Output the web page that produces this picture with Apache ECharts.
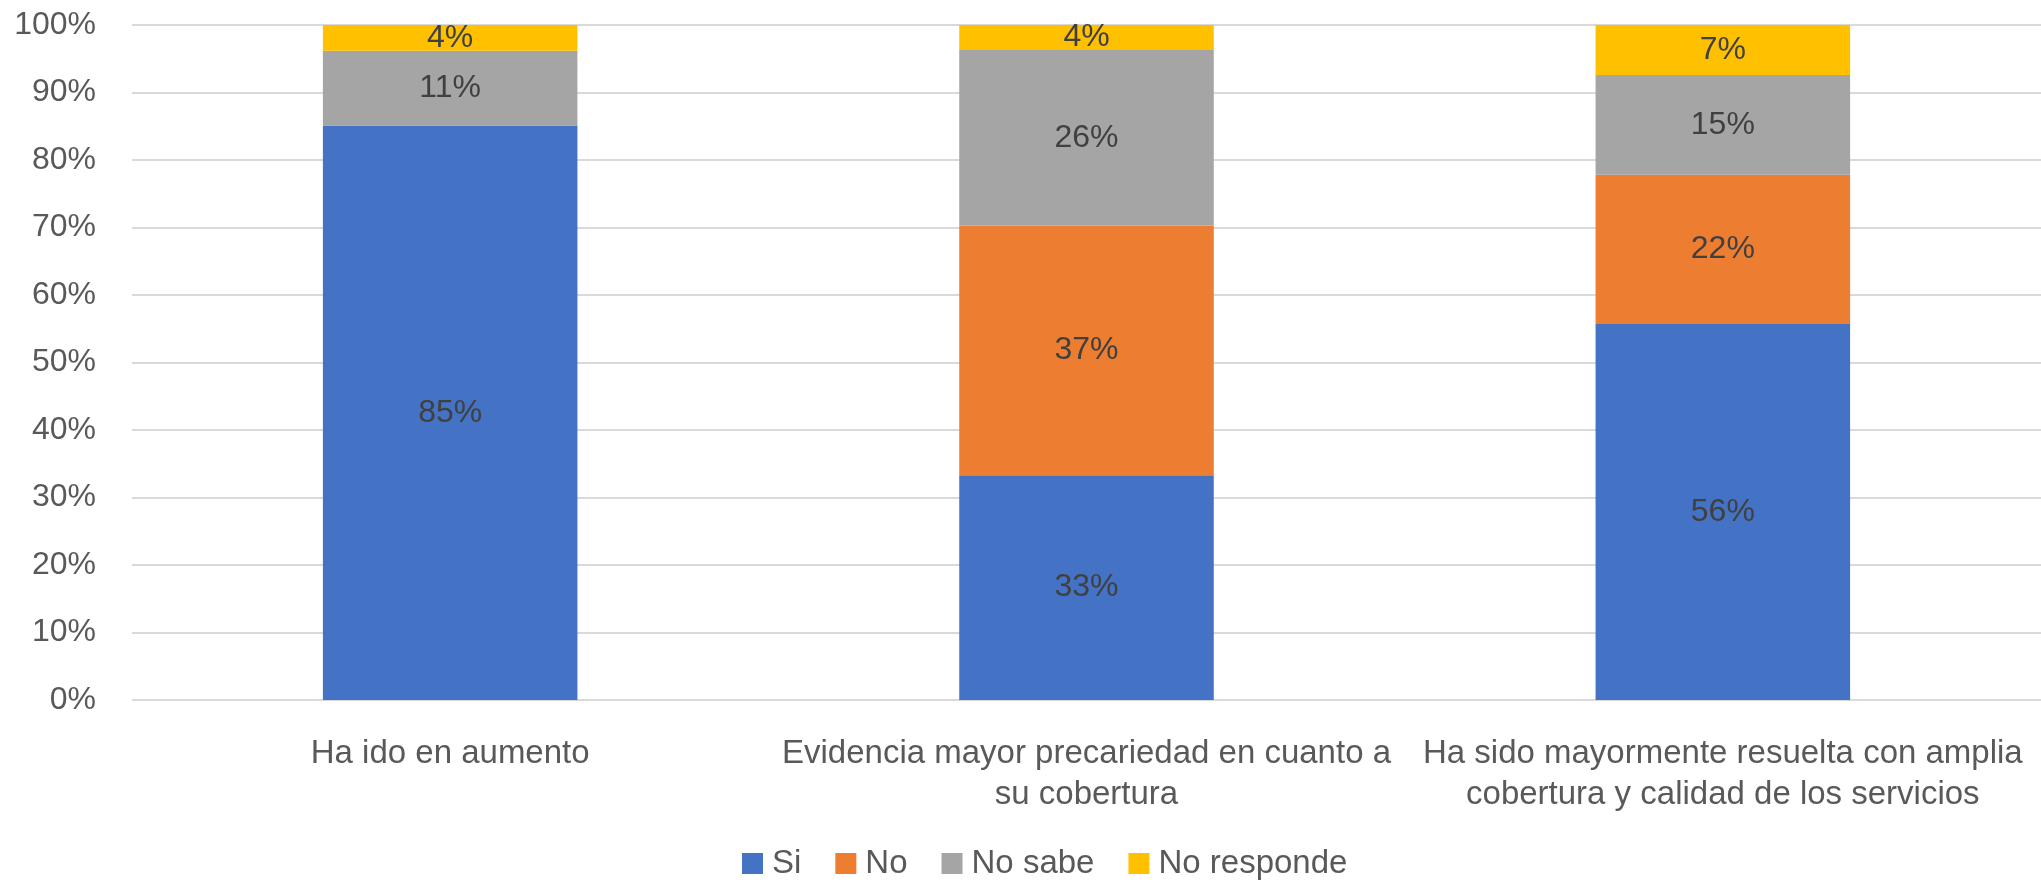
<!DOCTYPE html>
<html>
<head>
<meta charset="utf-8">
<script src="https://cdn.jsdelivr.net/npm/echarts@6/dist/echarts.min.js"></script>
<style>
  html, body { margin: 0; padding: 0; background: #fff; }
  #main { width: 2041px; height: 882px; }
</style>
</head>
<body>
<div id="main"></div>
<script>
// categories and stacked shares (percent)
var categories = [
  'Ha ido en aumento',
  'Evidencia mayor precariedad en cuanto a\nsu cobertura',
  'Ha sido mayormente resuelta con amplia\ncobertura y calidad de los servicios'
];
var si = [85.1, 33.3, 55.7];
var no = [0, 37.0, 22.1];
var noSabe = [11.1, 26.0, 14.8];
var noResponde = [3.8, 3.7, 7.4];
var yTicks = [0, 10, 20, 30, 40, 50, 60, 70, 80, 90, 100];

var font = 'Liberation Sans';

function barSeries(name, data, color) {
  return {
    name: name,
    type: 'bar',
    stack: 'total',
    barWidth: '40%',
    data: data,
    itemStyle: { color: color },
    label: {
      show: true,
      position: 'inside',
      color: '#404040',
      fontFamily: font,
      fontSize: 32,
      formatter: function (p) {
        return p.value > 0 ? Math.round(p.value) + '%' : '';
      }
    },
    emphasis: { disabled: true }
  };
}

var myChart = echarts.init(document.getElementById('main'));
var option = {
  animation: false,
  textStyle: { fontFamily: font },
  grid: { left: 132, right: 0, top: 25, bottom: 182, containLabel: false },
  legend: {
    top: 842,
    left: 737,
    itemWidth: 21,
    itemHeight: 21,
    itemGap: 34,
    icon: 'rect',
    textStyle: { color: '#595959', fontSize: 33, fontFamily: font, padding: [0, 0, 0, 4] },
    data: ['Si', 'No', 'No sabe', 'No responde']
  },
  xAxis: {
    type: 'category',
    data: categories,
    axisTick: { show: false },
    axisLine: { show: false },
    axisLabel: {
      color: '#595959',
      fontSize: 33,
      fontFamily: font,
      lineHeight: 41,
      margin: 33,
      interval: 0,
      align: 'center'
    }
  },
  yAxis: {
    type: 'value',
    min: yTicks[0],
    max: yTicks[yTicks.length - 1],
    interval: 10,
    axisLine: { show: false },
    axisTick: { show: false },
    splitLine: { lineStyle: { color: '#d9d9d9', width: 2 } },
    axisLabel: {
      color: '#595959',
      fontSize: 32,
      fontFamily: font,
      margin: 36,
      formatter: '{value}%'
    }
  },
  series: [
    barSeries('Si', si, '#4472C4'),
    barSeries('No', no, '#ED7D31'),
    barSeries('No sabe', noSabe, '#A5A5A5'),
    barSeries('No responde', noResponde, '#FFC000')
  ]
};
myChart.setOption(option);
</script>
</body>
</html>
